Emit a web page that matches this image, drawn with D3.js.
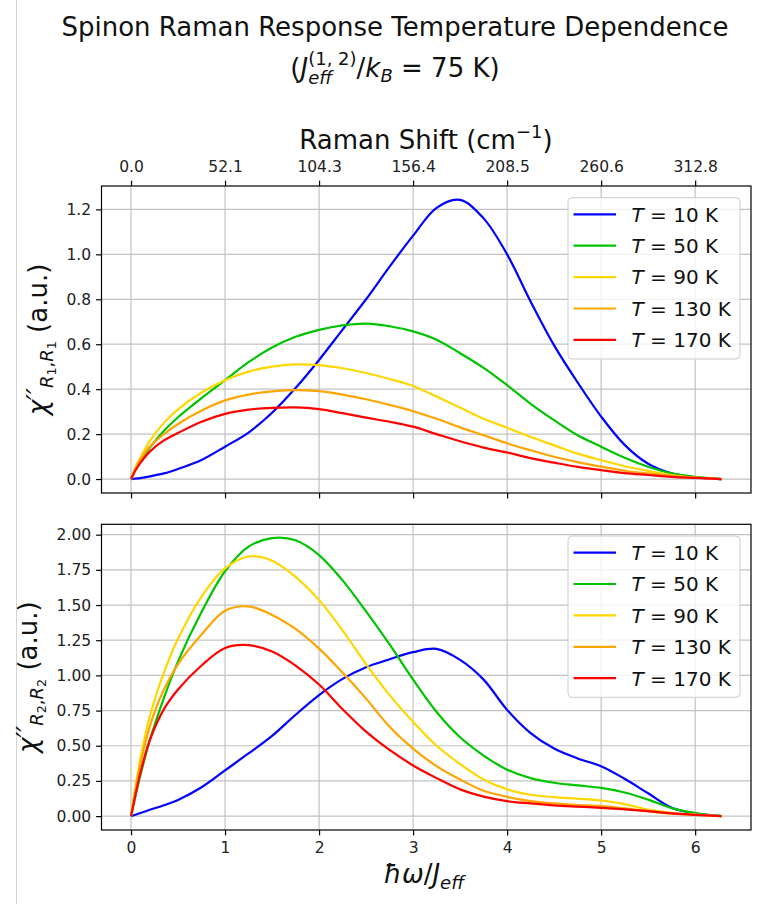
<!DOCTYPE html>
<html>
<head>
<meta charset="utf-8">
<script src="https://cdn.jsdelivr.net/npm/d3@7"></script>
<style>
body { margin: 0; background: #fff; }
svg { display: block; font-family: "DejaVu Sans", sans-serif; }
text { white-space: pre; }
</style>
</head>
<body>
<script>
// hbar*omega / J_eff sample points (0 .. 2pi)
var xs = [0, 0.05, 0.1, 0.2, 0.35, 0.5, 0.75, 1.0, 1.25, 1.5, 1.75, 2.0, 2.25, 2.5, 2.75,
          3.0, 3.25, 3.5, 3.75, 4.0, 4.25, 4.5, 4.75, 5.0, 5.25, 5.5, 5.75, 6.0, 6.28];

var temps = ["10", "50", "90", "130", "170"];
var colors = ["#0000ff", "#00c400", "#ffd700", "#ffa500", "#ff0000"];

// chi''_{R1,R1}
var r1T10  = [0, 0.002, 0.004, 0.012, 0.025, 0.045, 0.085, 0.144, 0.207, 0.295, 0.405, 0.53, 0.665, 0.80, 0.945,
              1.083, 1.207, 1.242, 1.16, 1.0, 0.79, 0.595, 0.43, 0.278, 0.152, 0.068, 0.025, 0.008, 0];
var r1T50  = [0, 0.045, 0.08, 0.14, 0.215, 0.275, 0.36, 0.44, 0.52, 0.585, 0.633, 0.664, 0.684, 0.692, 0.68,
              0.657, 0.62, 0.56, 0.495, 0.418, 0.335, 0.262, 0.195, 0.144, 0.095, 0.055, 0.025, 0.01, 0];
var r1T90  = [0, 0.055, 0.095, 0.17, 0.25, 0.31, 0.385, 0.44, 0.478, 0.50, 0.51, 0.507, 0.493, 0.472, 0.445,
              0.414, 0.367, 0.318, 0.268, 0.228, 0.187, 0.15, 0.113, 0.084, 0.057, 0.036, 0.018, 0.007, 0];
var r1T130 = [0, 0.05, 0.087, 0.145, 0.2, 0.245, 0.305, 0.35, 0.376, 0.39, 0.396, 0.391, 0.376, 0.355, 0.33,
              0.302, 0.268, 0.23, 0.195, 0.159, 0.128, 0.099, 0.075, 0.055, 0.037, 0.025, 0.014, 0.006, 0];
var r1T170 = [0, 0.04, 0.072, 0.122, 0.172, 0.205, 0.255, 0.29, 0.309, 0.317, 0.319, 0.311, 0.293, 0.273, 0.255,
              0.233, 0.2, 0.168, 0.14, 0.118, 0.093, 0.073, 0.054, 0.04, 0.026, 0.018, 0.01, 0.005, 0];

// chi''_{R2,R2}
var r2T10  = [0, 0.01, 0.022, 0.045, 0.077, 0.115, 0.205, 0.325, 0.445, 0.57, 0.72, 0.86, 0.975, 1.058, 1.115,
              1.165, 1.188, 1.11, 0.97, 0.755, 0.59, 0.48, 0.41, 0.355, 0.265, 0.162, 0.06, 0.02, 0];
var r2T50  = [0, 0.15, 0.29, 0.54, 0.84, 1.10, 1.45, 1.74, 1.915, 1.975, 1.96, 1.855, 1.675, 1.455, 1.22,
              0.97, 0.74, 0.56, 0.43, 0.33, 0.27, 0.237, 0.218, 0.2, 0.168, 0.117, 0.057, 0.022, 0];
var r2T90  = [0, 0.22, 0.41, 0.71, 1.02, 1.26, 1.56, 1.76, 1.845, 1.815, 1.70, 1.535, 1.32, 1.08, 0.86,
              0.67, 0.5, 0.37, 0.26, 0.19, 0.152, 0.135, 0.124, 0.111, 0.085, 0.047, 0.023, 0.011, 0];
var r2T130 = [0, 0.2, 0.37, 0.64, 0.9, 1.08, 1.29, 1.46, 1.49, 1.43, 1.33, 1.19, 1.02, 0.835, 0.635,
              0.48, 0.355, 0.26, 0.18, 0.137, 0.106, 0.09, 0.079, 0.071, 0.055, 0.035, 0.018, 0.009, 0];
var r2T170 = [0, 0.16, 0.31, 0.54, 0.76, 0.90, 1.07, 1.195, 1.215, 1.17, 1.07, 0.935, 0.76, 0.6, 0.47,
              0.36, 0.27, 0.19, 0.138, 0.106, 0.09, 0.076, 0.067, 0.059, 0.048, 0.035, 0.019, 0.009, 0];

var xTicks = [0, 1, 2, 3, 4, 5, 6];
var ramanTicks = ["0.0", "52.1", "104.3", "156.4", "208.5", "260.6", "312.8"];
var yTicksTop = [0, 0.2, 0.4, 0.6, 0.8, 1.0, 1.2];
var yTicksBottom = [0, 0.25, 0.5, 0.75, 1.0, 1.25, 1.5, 1.75, 2.0];

var W = 769, H = 904,
    left = 101.5, right = 751,
    tickLen = 5.4,
    tickFont = "15.5px", labelFont = 26, subFont = 18, subsubFont = 12.7;

var svg = d3.select("body").append("svg")
    .attr("width", W)
    .attr("height", H);

// thin border line at the left of the screenshot
svg.append("line")
    .attr("x1", 16.5).attr("x2", 16.5)
    .attr("y1", 0).attr("y2", H)
    .attr("stroke", "#d4d4d4");

var xPad = 0.05 * (d3.max(xs) - d3.min(xs));
var x = d3.scaleLinear()
    .domain([d3.min(xs) - xPad, d3.max(xs) + xPad])
    .range([left, right]);

// lays out a run of text pieces like mathtext; each piece: [text, size, shift, italic, stackNext]
function mathText(parent, parts, anchor) {
    var g = parent.append("g");
    var cx = 0, stackW = 0;
    parts.forEach(function(p) {
        var t = g.append("text")
            .attr("x", cx)
            .attr("y", p[2])
            .attr("font-size", p[1] + "px")
            .attr("font-style", p[3] ? "italic" : null)
            .attr("fill", "#111")
            .text(p[0]);
        var w = t.node().getComputedTextLength();
        if (p[4]) {
            stackW = w;
        } else {
            cx += Math.max(w, stackW);
            stackW = 0;
        }
    });
    if (anchor === "middle") g.attr("transform", "translate(" + (-cx / 2) + ",0)");
    return g;
}

// title
svg.append("text")
    .attr("x", 395).attr("y", 36)
    .attr("text-anchor", "middle")
    .attr("font-size", labelFont + "px")
    .attr("fill", "#111")
    .text("Spinon Raman Response Temperature Dependence");

mathText(svg.append("g").attr("transform", "translate(395,77)"), [
    ["(", labelFont, 0, false],
    ["J", labelFont, 0, true],
    ["(1, 2)", subFont, -12, false, true],
    ["eff", subFont, 7, true],
    ["/", labelFont, 0, false],
    ["k", labelFont, 0, true],
    ["B", subFont, 5, true],
    [" = 75 K)", labelFont, 0, false]
], "middle");

var panels = [
    {top: 186, bottom: 493, series: [r1T10, r1T50, r1T90, r1T130, r1T170],
     ticks: yTicksTop, fmt: d3.format(".1f"), sub: "1", labelX: 47},
    {top: 524.3, bottom: 830, series: [r2T10, r2T50, r2T90, r2T130, r2T170],
     ticks: yTicksBottom, fmt: d3.format(".2f"), sub: "2", labelX: 37}
];

panels.forEach(function(p, pi) {
    var yMax = d3.max(p.series, function(s) { return d3.max(s); }),
        yPad = 0.05 * yMax;
    var y = d3.scaleLinear()
        .domain([-yPad, yMax + yPad])
        .range([p.bottom, p.top]);

    var g = svg.append("g");

    // grid
    g.append("g").selectAll("line")
        .data(xTicks)
        .enter()
        .append("line")
        .attr("x1", function(d) { return x(d); })
        .attr("x2", function(d) { return x(d); })
        .attr("y1", p.top).attr("y2", p.bottom)
        .attr("stroke", "#c2c2c2").attr("stroke-width", 1.2);
    g.append("g").selectAll("line")
        .data(p.ticks)
        .enter()
        .append("line")
        .attr("x1", left).attr("x2", right)
        .attr("y1", function(d) { return y(d); })
        .attr("y2", function(d) { return y(d); })
        .attr("stroke", "#c2c2c2").attr("stroke-width", 1.2);

    // curves
    var line = d3.line()
        .x(function(d, i) { return x(xs[i]); })
        .y(function(d) { return y(d); })
        .curve(d3.curveCatmullRom.alpha(0.5));
    g.append("g").selectAll("path")
        .data(p.series)
        .enter()
        .append("path")
        .attr("d", line)
        .attr("fill", "none")
        .attr("stroke", function(d, i) { return colors[i]; })
        .attr("stroke-width", 2.2)
        .attr("stroke-linejoin", "round");

    // frame
    g.append("rect")
        .attr("x", left).attr("y", p.top)
        .attr("width", right - left).attr("height", p.bottom - p.top)
        .attr("fill", "none")
        .attr("stroke", "#000").attr("stroke-width", 1.2);

    // axes
    var yAxis = g.append("g")
        .attr("transform", "translate(" + left + ",0)")
        .call(d3.axisLeft(y).tickValues(p.ticks).tickSize(tickLen).tickPadding(5).tickFormat(p.fmt));
    var xAxis = g.append("g")
        .attr("transform", "translate(0," + p.bottom + ")")
        .call(d3.axisBottom(x).tickValues(xTicks).tickSize(tickLen).tickPadding(7)
            .tickFormat(pi === 1 ? d3.format("d") : function() { return ""; }));
    var axes = [yAxis, xAxis];
    if (pi === 0) {
        axes.push(g.append("g")
            .attr("transform", "translate(0," + p.top + ")")
            .call(d3.axisTop(x).tickValues(xTicks).tickSize(tickLen).tickPadding(8.5)
                .tickFormat(function(d, i) { return ramanTicks[i]; })));
    }
    axes.forEach(function(a) {
        a.select(".domain").remove();
        a.selectAll(".tick line").attr("stroke", "#000").attr("stroke-width", 1.2);
        a.selectAll(".tick text")
            .attr("font-family", "DejaVu Sans")
            .attr("font-size", tickFont)
            .attr("fill", "#222");
    });

    // y label
    var lg = g.append("g")
        .attr("transform", "translate(" + p.labelX + "," + ((p.top + p.bottom) / 2) + ") rotate(-90)");
    mathText(lg, [
        ["\u03c7", labelFont, 0, true],
        ["\u2032\u2032", labelFont, -1, true],
        ["R", subFont, 6, true],
        [p.sub, subsubFont, 9, false],
        [",", subFont, 6, false],
        ["R", subFont, 6, true],
        [p.sub, subsubFont, 9, false],
        [" (a.u.)", labelFont, 0, false]
    ], "middle");

    // legend
    var leg = g.append("g")
        .attr("transform", "translate(568," + (p.top + 11.7) + ")");
    leg.append("rect")
        .attr("width", 172).attr("height", 161.3)
        .attr("rx", 4)
        .attr("fill", "#fff").attr("fill-opacity", 0.8)
        .attr("stroke", "#cccccc").attr("stroke-width", 1);
    var rows = leg.selectAll("g.row")
        .data(temps)
        .enter()
        .append("g")
        .attr("class", "row")
        .attr("transform", function(d, i) { return "translate(0," + (16.6 + i * 31.4) + ")"; });
    rows.append("line")
        .attr("x1", 5.5).attr("x2", 48)
        .attr("stroke", function(d, i) { return colors[i]; })
        .attr("stroke-width", 2.2);
    var lt = rows.append("text")
        .attr("x", 63.5).attr("y", 7.3)
        .attr("font-size", "20px")
        .attr("fill", "#111");
    lt.append("tspan").attr("font-style", "italic").text("T");
    lt.append("tspan").text(function(d) { return " = " + d + " K"; });
});

// top axis label
mathText(svg.append("g").attr("transform", "translate(426,149)"), [
    ["Raman Shift (cm", labelFont, 0, false],
    ["\u22121", subFont, -11, false],
    [")", labelFont, 0, false]
], "middle");

// bottom axis label
mathText(svg.append("g").attr("transform", "translate(424,883)"), [
    ["\u0127\u03c9", labelFont, 0, true],
    ["/", labelFont, 0, false],
    ["J", labelFont, 0, true],
    ["eff", subFont, 6, true]
], "middle");
</script>
</body>
</html>
